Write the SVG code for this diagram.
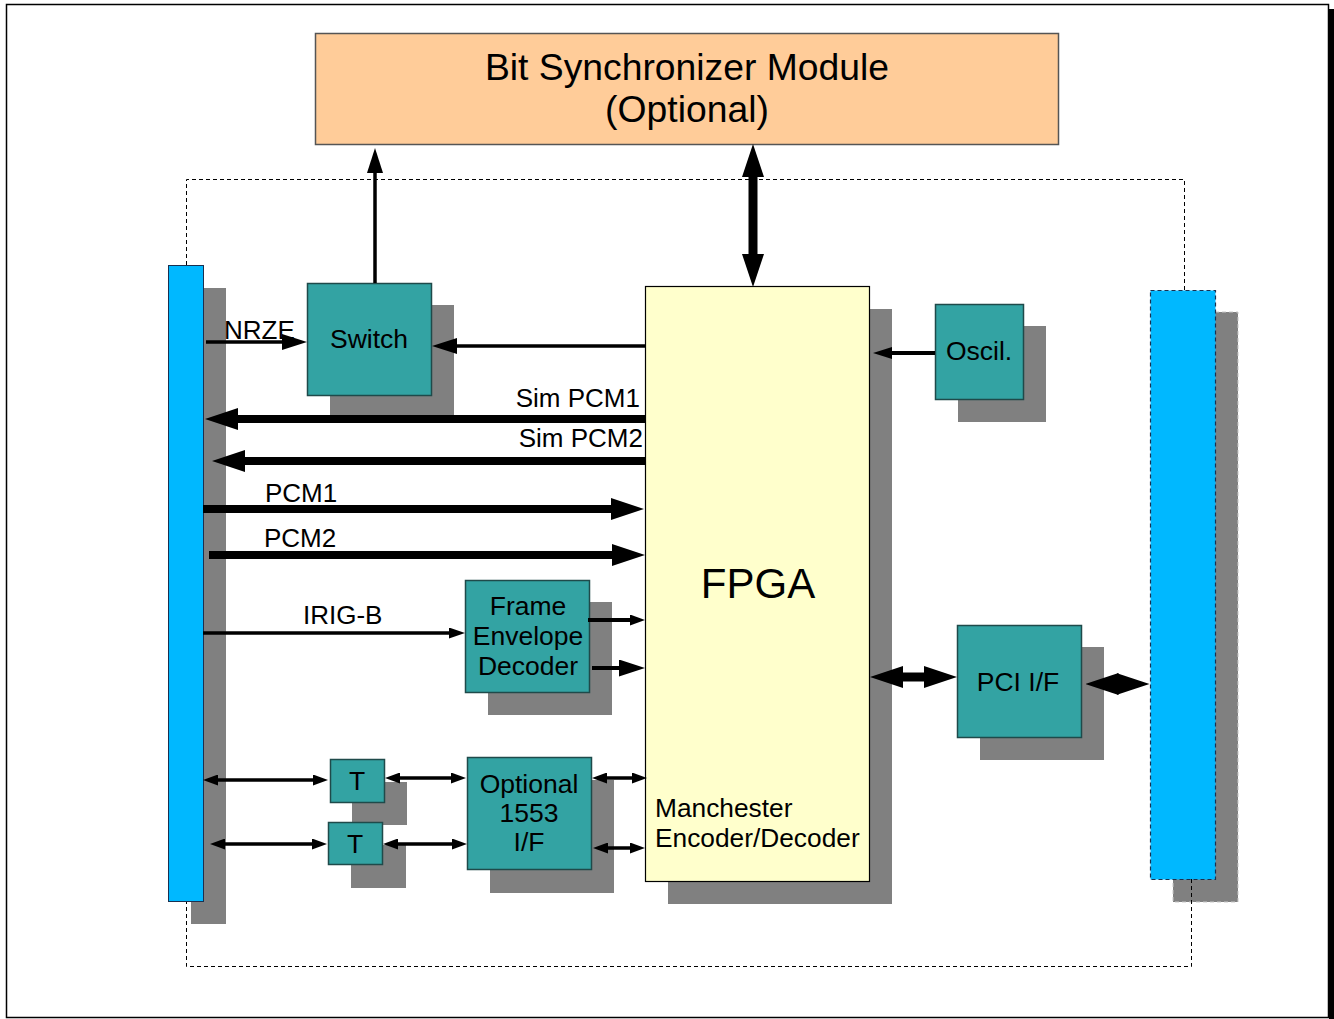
<svg xmlns="http://www.w3.org/2000/svg" width="1334" height="1019" viewBox="0 0 1334 1019">
<style>
text{font-family:"Liberation Sans",Arial,sans-serif;fill:#000}
.sh{fill:#808080}
.box{fill:#33A3A3;stroke:#1f4a4a;stroke-width:1.5}
.t26{font-size:26.5px;text-anchor:middle}
.lbl{font-size:26px}
.c{stroke:#000;fill:none}
</style>
<defs>
<marker id="mBig" markerUnits="userSpaceOnUse" markerWidth="33" markerHeight="22" viewBox="0 0 33 22" refX="0" refY="11" orient="auto-start-reverse"><path d="M0,0 L33,11 L0,22 z"/></marker>
<marker id="mMed" markerUnits="userSpaceOnUse" markerWidth="25" markerHeight="16" viewBox="0 0 25 16" refX="0" refY="8" orient="auto-start-reverse"><path d="M0,0 L25,8 L0,16 z"/></marker>
<marker id="mIrig" markerUnits="userSpaceOnUse" markerWidth="16" markerHeight="11" viewBox="0 0 16 11" refX="0" refY="5.5" orient="auto-start-reverse"><path d="M0,0 L16,5.5 L0,11 z"/></marker>
<marker id="mSm" markerUnits="userSpaceOnUse" markerWidth="15" markerHeight="11" viewBox="0 0 15 11" refX="0" refY="5.5" orient="auto-start-reverse"><path d="M0,0 L15,5.5 L0,11 z"/></marker>
<marker id="mOsc" markerUnits="userSpaceOnUse" markerWidth="19" markerHeight="12" viewBox="0 0 19 12" refX="0" refY="6" orient="auto-start-reverse"><path d="M0,0 L19,6 L0,12 z"/></marker>
<marker id="mFed" markerUnits="userSpaceOnUse" markerWidth="26" markerHeight="17" viewBox="0 0 26 17" refX="0" refY="8.5" orient="auto-start-reverse"><path d="M0,0 L26,8.5 L0,17 z"/></marker>
<marker id="mDia" markerUnits="userSpaceOnUse" markerWidth="33" markerHeight="22" viewBox="0 0 33 22" refX="1.5" refY="11" orient="auto-start-reverse"><path d="M0,0 L33,11 L0,22 z"/></marker>
</defs>

<!-- page frame -->
<rect x="6.5" y="4.5" width="1322" height="1013" fill="#fff" stroke="#000" stroke-width="1.5"/>
<rect x="1329" y="9" width="5" height="1010" fill="#000"/>

<g id="bitsync">
<rect x="315.5" y="33.5" width="743" height="111" fill="#FFCC99" stroke="#555" stroke-width="1.5"/>
<text x="687" y="80" style="font-size:37.3px;text-anchor:middle">Bit Synchronizer Module</text>
<text x="687" y="122" style="font-size:37.3px;text-anchor:middle">(Optional)</text>
</g>

<g id="left-bus">
<rect class="sh" x="191" y="288" width="35" height="636"/>
<rect x="168.5" y="265.5" width="35" height="636" fill="#00B8FF" stroke="#1a3050" stroke-width="1"/>
</g>

<g id="right-bus">
<rect class="sh" x="1173" y="312" width="65" height="590" stroke="#c8c8c8" stroke-width="1" stroke-dasharray="4,3"/>
<rect x="1150.5" y="290.5" width="65" height="589" fill="#00B8FF" stroke="#1a3050" stroke-width="1.2" stroke-dasharray="4,3"/>
</g>

<g id="switch">
<rect class="sh" x="330" y="305" width="124" height="113"/>
<rect class="box" x="307.5" y="283.5" width="124" height="112"/>
<text class="t26" x="369" y="348">Switch</text>
</g>

<g id="fpga">
<rect class="sh" x="668" y="309" width="224" height="595"/>
<rect x="645.5" y="286.5" width="224" height="595" fill="#FFFFCC" stroke="#000" stroke-width="1.2"/>
<text x="758" y="598" style="font-size:42px;text-anchor:middle">FPGA</text>
<text x="655" y="817" style="font-size:26.3px">Manchester</text>
<text x="655" y="847" style="font-size:26.3px">Encoder/Decoder</text>
</g>

<g id="oscil">
<rect class="sh" x="958" y="326" width="88" height="96"/>
<rect class="box" x="935.5" y="304.5" width="88" height="95"/>
<text class="t26" x="979" y="360">Oscil.</text>
</g>

<g id="fed">
<rect class="sh" x="488" y="602" width="124" height="113"/>
<rect class="box" x="465.5" y="580.5" width="124" height="112"/>
<text class="t26" x="528" y="615">Frame</text>
<text class="t26" x="528" y="645">Envelope</text>
<text class="t26" x="528" y="675">Decoder</text>
</g>

<g id="t1">
<rect class="sh" x="352" y="782" width="55" height="43"/>
<rect class="box" x="330.5" y="759.5" width="54" height="43"/>
<text class="t26" x="357" y="790">T</text>
</g>

<g id="t2">
<rect class="sh" x="351" y="845" width="55" height="43"/>
<rect class="box" x="328.5" y="822.5" width="54" height="42"/>
<text class="t26" x="355" y="853">T</text>
</g>

<g id="mil1553">
<rect class="sh" x="490" y="780" width="124" height="113"/>
<rect class="box" x="467.5" y="757.5" width="124" height="112"/>
<text class="t26" x="529" y="793">Optional</text>
<text class="t26" x="529" y="822">1553</text>
<text class="t26" x="529" y="851">I/F</text>
</g>

<g id="pci">
<rect class="sh" x="980" y="647" width="124" height="113"/>
<rect class="box" x="957.5" y="625.5" width="124" height="112"/>
<text class="t26" x="1018" y="691">PCI I/F</text>
</g>

<!-- dashed enclosure -->
<path d="M186.5,265 V179.5 H1184.5 V290 M1191.5,879 V966.5 H186.5 V902" fill="none" stroke="#000" stroke-width="1" stroke-dasharray="4,3"/>

<g id="connectors">
<line class="c" x1="375" y1="283" x2="375" y2="173" stroke-width="3.5" marker-end="url(#mMed)"/>
<line class="c" x1="206" y1="342" x2="282" y2="342" stroke-width="3.5" marker-end="url(#mMed)"/>
<line class="c" x1="645" y1="346" x2="457" y2="346" stroke-width="3.5" marker-end="url(#mMed)"/>
<line class="c" x1="645" y1="419" x2="238" y2="419" stroke-width="8" marker-end="url(#mBig)"/>
<line class="c" x1="645" y1="461" x2="245" y2="461" stroke-width="8" marker-end="url(#mBig)"/>
<line class="c" x1="203" y1="509" x2="611" y2="509" stroke-width="8" marker-end="url(#mBig)"/>
<line class="c" x1="209" y1="555" x2="612" y2="555" stroke-width="8" marker-end="url(#mBig)"/>
<line class="c" x1="203" y1="633" x2="449" y2="633" stroke-width="3.5" marker-end="url(#mIrig)"/>
<line class="c" x1="588" y1="620" x2="630" y2="620" stroke-width="4" marker-end="url(#mSm)"/>
<line class="c" x1="592" y1="668" x2="619" y2="668" stroke-width="4" marker-end="url(#mFed)"/>
<line class="c" x1="218" y1="780" x2="313" y2="780" stroke-width="3.5" marker-start="url(#mSm)" marker-end="url(#mSm)"/>
<line class="c" x1="225" y1="844" x2="312" y2="844" stroke-width="3.5" marker-start="url(#mSm)" marker-end="url(#mSm)"/>
<line class="c" x1="400" y1="778" x2="451" y2="778" stroke-width="3.5" marker-start="url(#mSm)" marker-end="url(#mSm)"/>
<line class="c" x1="398" y1="844" x2="452" y2="844" stroke-width="3.5" marker-start="url(#mSm)" marker-end="url(#mSm)"/>
<line class="c" x1="607" y1="778" x2="632" y2="778" stroke-width="3.5" marker-start="url(#mSm)" marker-end="url(#mSm)"/>
<line class="c" x1="608" y1="848" x2="630" y2="848" stroke-width="3.5" marker-start="url(#mSm)" marker-end="url(#mSm)"/>
<line class="c" x1="753" y1="177" x2="753" y2="254" stroke-width="9" marker-start="url(#mBig)" marker-end="url(#mBig)"/>
<line class="c" x1="935" y1="353" x2="892" y2="353" stroke-width="4" marker-end="url(#mOsc)"/>
<line class="c" x1="903" y1="677" x2="924" y2="677" stroke-width="9" marker-start="url(#mBig)" marker-end="url(#mBig)"/>
<line class="c" x1="1117" y1="684" x2="1118" y2="684" stroke-width="2" marker-start="url(#mDia)" marker-end="url(#mDia)"/>
</g>

<g id="labels">
<text class="lbl" x="224" y="339">NRZE</text>
<text class="lbl" x="640" y="407" text-anchor="end">Sim PCM1</text>
<text class="lbl" x="643" y="447" text-anchor="end">Sim PCM2</text>
<text class="lbl" x="265" y="502">PCM1</text>
<text class="lbl" x="264" y="547">PCM2</text>
<text class="lbl" x="303" y="624">IRIG-B</text>
</g>
</svg>
